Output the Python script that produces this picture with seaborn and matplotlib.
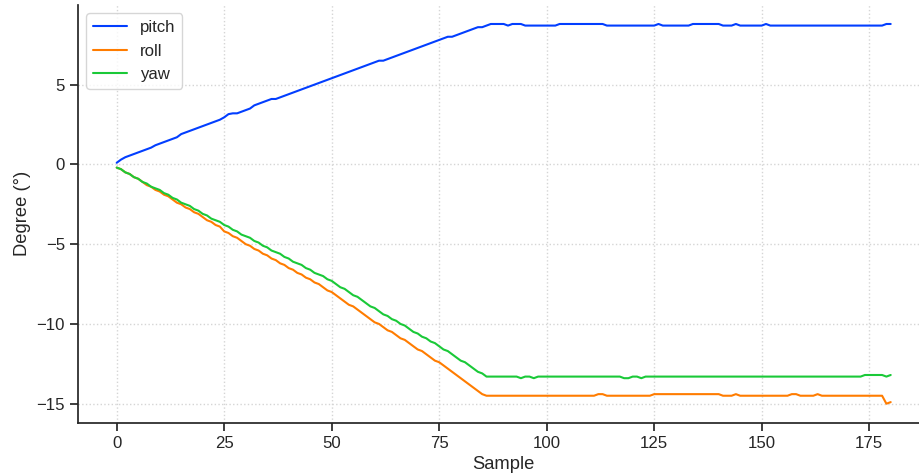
import numpy as np
import pandas as pd
import seaborn as sns
import matplotlib.pyplot as plt

# orientation angles per sample (degrees)
pitch = [0.1, 0.3, 0.45, 0.55, 0.65, 0.75, 0.85, 0.95, 1.05, 1.2,
         1.3, 1.4, 1.5, 1.6, 1.7, 1.9, 2.0, 2.1, 2.2, 2.3,
         2.4, 2.5, 2.6, 2.7, 2.8, 2.95, 3.15, 3.2, 3.2, 3.3,
         3.4, 3.5, 3.7, 3.8, 3.9, 4.0, 4.1, 4.1, 4.2, 4.3,
         4.4, 4.5, 4.6, 4.7, 4.8, 4.9, 5.0, 5.1, 5.2, 5.3,
         5.4, 5.5, 5.6, 5.7, 5.8, 5.9, 6.0, 6.1, 6.2, 6.3,
         6.4, 6.5, 6.5, 6.6, 6.7, 6.8, 6.9, 7.0, 7.1, 7.2,
         7.3, 7.4, 7.5, 7.6, 7.7, 7.8, 7.9, 8.0, 8.0, 8.1,
         8.2, 8.3, 8.4, 8.5, 8.6, 8.6, 8.7, 8.8, 8.8, 8.8,
         8.8, 8.7, 8.8, 8.8, 8.8, 8.7, 8.7, 8.7, 8.7, 8.7,
         8.7, 8.7, 8.7, 8.8, 8.8, 8.8, 8.8, 8.8, 8.8, 8.8,
         8.8, 8.8, 8.8, 8.8, 8.7, 8.7, 8.7, 8.7, 8.7, 8.7,
         8.7, 8.7, 8.7, 8.7, 8.7, 8.7, 8.8, 8.7, 8.7, 8.7,
         8.7, 8.7, 8.7, 8.7, 8.8, 8.8, 8.8, 8.8, 8.8, 8.8,
         8.8, 8.7, 8.7, 8.7, 8.8, 8.7, 8.7, 8.7, 8.7, 8.7,
         8.7, 8.8, 8.7, 8.7, 8.7, 8.7, 8.7, 8.7, 8.7, 8.7,
         8.7, 8.7, 8.7, 8.7, 8.7, 8.7, 8.7, 8.7, 8.7, 8.7,
         8.7, 8.7, 8.7, 8.7, 8.7, 8.7, 8.7, 8.7, 8.7, 8.8,
         8.8]

roll = [-0.2, -0.3, -0.5, -0.6, -0.8, -0.9, -1.1, -1.3, -1.4, -1.6,
        -1.7, -1.9, -2.0, -2.2, -2.4, -2.5, -2.7, -2.8, -3.0, -3.1,
        -3.3, -3.5, -3.6, -3.8, -3.9, -4.2, -4.3, -4.5, -4.6, -4.8,
        -5.0, -5.1, -5.3, -5.4, -5.6, -5.7, -5.9, -6.0, -6.2, -6.3,
        -6.5, -6.6, -6.8, -6.9, -7.1, -7.2, -7.4, -7.5, -7.7, -7.9,
        -8.0, -8.2, -8.4, -8.6, -8.8, -8.9, -9.1, -9.3, -9.5, -9.7,
        -9.9, -10.0, -10.2, -10.4, -10.5, -10.7, -10.9, -11.0, -11.2, -11.4,
        -11.6, -11.7, -11.9, -12.1, -12.3, -12.4, -12.6, -12.8, -13.0, -13.2,
        -13.4, -13.6, -13.8, -14.0, -14.2, -14.4, -14.5, -14.5, -14.5, -14.5,
        -14.5, -14.5, -14.5, -14.5, -14.5, -14.5, -14.5, -14.5, -14.5, -14.5,
        -14.5, -14.5, -14.5, -14.5, -14.5, -14.5, -14.5, -14.5, -14.5, -14.5,
        -14.5, -14.5, -14.4, -14.4, -14.5, -14.5, -14.5, -14.5, -14.5, -14.5,
        -14.5, -14.5, -14.5, -14.5, -14.5, -14.4, -14.4, -14.4, -14.4, -14.4,
        -14.4, -14.4, -14.4, -14.4, -14.4, -14.4, -14.4, -14.4, -14.4, -14.4,
        -14.4, -14.5, -14.5, -14.5, -14.4, -14.5, -14.5, -14.5, -14.5, -14.5,
        -14.5, -14.5, -14.5, -14.5, -14.5, -14.5, -14.5, -14.4, -14.4, -14.5,
        -14.5, -14.5, -14.5, -14.4, -14.5, -14.5, -14.5, -14.5, -14.5, -14.5,
        -14.5, -14.5, -14.5, -14.5, -14.5, -14.5, -14.5, -14.5, -14.5, -15.0,
        -14.9]

yaw = [-0.2, -0.3, -0.5, -0.6, -0.8, -0.9, -1.1, -1.2, -1.4, -1.5,
       -1.6, -1.8, -1.9, -2.1, -2.2, -2.4, -2.5, -2.6, -2.8, -2.9,
       -3.1, -3.2, -3.4, -3.5, -3.6, -3.8, -3.9, -4.1, -4.2, -4.4,
       -4.5, -4.6, -4.8, -4.9, -5.1, -5.2, -5.4, -5.5, -5.6, -5.8,
       -5.9, -6.1, -6.2, -6.3, -6.5, -6.6, -6.8, -6.9, -7.0, -7.2,
       -7.3, -7.5, -7.7, -7.8, -8.0, -8.2, -8.3, -8.5, -8.7, -8.9,
       -9.0, -9.2, -9.4, -9.5, -9.7, -9.8, -10.0, -10.1, -10.3, -10.5,
       -10.6, -10.8, -10.9, -11.1, -11.2, -11.4, -11.6, -11.7, -11.9, -12.1,
       -12.3, -12.4, -12.6, -12.8, -13.0, -13.1, -13.3, -13.3, -13.3, -13.3,
       -13.3, -13.3, -13.3, -13.3, -13.4, -13.3, -13.3, -13.4, -13.3, -13.3,
       -13.3, -13.3, -13.3, -13.3, -13.3, -13.3, -13.3, -13.3, -13.3, -13.3,
       -13.3, -13.3, -13.3, -13.3, -13.3, -13.3, -13.3, -13.3, -13.4, -13.4,
       -13.3, -13.3, -13.4, -13.3, -13.3, -13.3, -13.3, -13.3, -13.3, -13.3,
       -13.3, -13.3, -13.3, -13.3, -13.3, -13.3, -13.3, -13.3, -13.3, -13.3,
       -13.3, -13.3, -13.3, -13.3, -13.3, -13.3, -13.3, -13.3, -13.3, -13.3,
       -13.3, -13.3, -13.3, -13.3, -13.3, -13.3, -13.3, -13.3, -13.3, -13.3,
       -13.3, -13.3, -13.3, -13.3, -13.3, -13.3, -13.3, -13.3, -13.3, -13.3,
       -13.3, -13.3, -13.3, -13.3, -13.2, -13.2, -13.2, -13.2, -13.2, -13.3,
       -13.2]

sample = np.arange(len(pitch))

df = pd.DataFrame({"Sample": sample, "pitch": pitch, "roll": roll, "yaw": yaw})
df = df.melt(id_vars="Sample", var_name="angle", value_name="Degree")

sns.set_theme(style="ticks", context="notebook", palette="bright", font_scale=1.1)
plt.rcParams['font.family'] = ['Liberation Sans', 'DejaVu Sans']

fig = plt.figure(figsize=(9.19, 4.76), dpi=100)
ax = fig.add_axes([78 / 919, 1 - 422.7 / 476, 851.4 / 919, 417.7 / 476])

sns.lineplot(data=df, x="Sample", y="Degree", hue="angle", ax=ax, linewidth=1.5)

ax.grid(True, linestyle=":", color="#d5d5d5", linewidth=1)
ax.set_xlabel("Sample")
ax.set_ylabel("Degree (°)")
ax.legend(loc="upper left", title=None)
sns.despine(ax=ax)

fig.savefig("out.png", dpi=100)
